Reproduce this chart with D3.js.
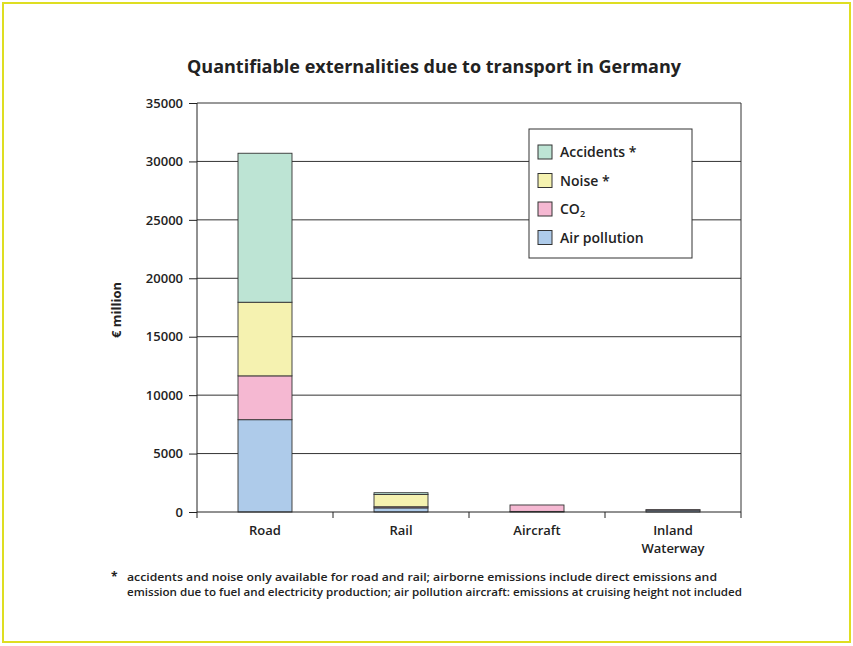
<!DOCTYPE html>
<html>
<head>
<meta charset="utf-8">
<script src="https://cdn.jsdelivr.net/npm/d3@7"></script>
<style>
  body { margin: 0; background: #fff; }
  text { font-family: "Open Sans", "DejaVu Sans", sans-serif; fill: #222; }
</style>
</head>
<body>
<svg id="chart" width="853" height="646"></svg>
<script>
const categories = ["Road", "Rail", "Aircraft", "Inland Waterway"];
const seriesNames = ["Air pollution", "CO₂", "Noise *", "Accidents *"];
const airPollution = [7900, 350, 50, 160];
const co2 = [3750, 100, 550, 40];
const noise = [6300, 1050, 0, 0];
const accidents = [12750, 150, 0, 0];
const yTicks = [0, 5000, 10000, 15000, 20000, 25000, 30000, 35000];
const colors = ["#aecbea", "#f5b8d2", "#f5f2b0", "#bde4d4"];

const svg = d3.select("#chart");
const plotL = 197, plotR = 741, plotT = 103, plotB = 512;

// outer yellow frame
svg.append("rect").attr("x", 3).attr("y", 3).attr("width", 847).attr("height", 639)
  .attr("fill", "none").attr("stroke", "#dede22").attr("stroke-width", 2);

svg.append("text").text("Quantifiable externalities due to transport in Germany")
  .attr("x", 434).attr("y", 73).attr("text-anchor", "middle")
  .attr("font-size", "18px").attr("font-weight", "bold");

const x = d3.scaleBand().domain(categories).range([plotL, plotR])
  .paddingInner(0.603).paddingOuter(0.3015);
const y = d3.scaleLinear().domain([0, 35000]).range([plotB, plotT]);

// gridlines
svg.append("g").selectAll("line").data(yTicks.slice(1)).enter().append("line")
  .attr("x1", plotL).attr("x2", plotR)
  .attr("y1", d => y(d)).attr("y2", d => y(d))
  .attr("stroke", "#333").attr("stroke-width", 1);
svg.append("line").attr("x1", plotR).attr("x2", plotR).attr("y1", plotT).attr("y2", plotB)
  .attr("stroke", "#333");

// stacked bars
const rows = categories.map((c, i) => ({
  cat: c, "Air pollution": airPollution[i], "CO₂": co2[i], "Noise *": noise[i], "Accidents *": accidents[i]
}));
const stack = d3.stack().keys(seriesNames)(rows);
svg.append("g").selectAll("g").data(stack).enter().append("g")
  .attr("fill", (d, i) => colors[i])
  .selectAll("rect").data(d => d.filter(p => p[1] > p[0])).enter().append("rect")
  .attr("x", d => x(d.data.cat))
  .attr("width", x.bandwidth())
  .attr("y", d => y(d[1]))
  .attr("height", d => y(d[0]) - y(d[1]))
  .attr("stroke", "#333").attr("stroke-width", 0.9);

// y axis
const yAxis = svg.append("g").attr("transform", `translate(${plotL},0)`)
  .call(d3.axisLeft(y).tickValues(yTicks).tickSize(8).tickPadding(6).tickFormat(d3.format("d")));
yAxis.selectAll("text").attr("font-size", "13px").attr("font-weight", 600)
  .style("font-family", '"Open Sans", sans-serif').attr("fill", "#222");
yAxis.selectAll("line, path").attr("stroke", "#222");
yAxis.select(".domain").attr("d", `M0,${plotT}V${plotB}`);

// x axis
const bx = d3.scaleLinear().domain([0, 4]).range([plotL, plotR]);
svg.append("line").attr("x1", plotL).attr("x2", plotR).attr("y1", plotB).attr("y2", plotB)
  .attr("stroke", "#222");
svg.append("g").selectAll("line").data(d3.range(5)).enter().append("line")
  .attr("x1", d => bx(d)).attr("x2", d => bx(d)).attr("y1", plotB).attr("y2", plotB + 6)
  .attr("stroke", "#222");
const xl = svg.append("g").selectAll("text").data(categories).enter().append("text")
  .attr("x", d => x(d) + x.bandwidth() / 2).attr("y", 535)
  .attr("text-anchor", "middle").attr("font-size", "13px").attr("font-weight", 600);
xl.each(function(d) {
  const words = d === "Inland Waterway" ? ["Inland", "Waterway"] : [d];
  words.forEach((w, i) => d3.select(this).append("tspan")
    .attr("x", x(d) + x.bandwidth() / 2).attr("dy", i ? 18 : 0).text(w));
});

svg.append("text").text("€ million")
  .attr("transform", "translate(121,310) rotate(-90)").attr("text-anchor", "middle")
  .attr("font-size", "13px").attr("font-weight", "bold");

// legend
const lg = svg.append("g").attr("transform", "translate(529,129)");
lg.append("rect").attr("width", 163).attr("height", 129).attr("fill", "#fff").attr("stroke", "#333");
const legendOrder = [3, 2, 1, 0];
legendOrder.forEach((si, i) => {
  const row = lg.append("g").attr("transform", `translate(9,${16 + i * 28.5})`);
  row.append("rect").attr("width", 14).attr("height", 14).attr("fill", colors[si]).attr("stroke", "#333");
  const t = row.append("text").attr("x", 22).attr("y", 12).attr("font-size", "14px").attr("font-weight", 600);
  if (si === 1) {
    t.append("tspan").text("CO");
    t.append("tspan").text("2").attr("font-size", "9px").attr("dy", 3);
  } else {
    t.text(seriesNames[si]);
  }
});

// footnote
const fn = svg.append("g").attr("font-size", "11.3px").attr("font-weight", 600);
fn.append("text").text("*").attr("x", 111).attr("y", 581).attr("font-size", "12px").attr("font-weight", 700);
fn.append("text").text("accidents and noise only available for road and rail; airborne emissions include direct emissions and")
  .attr("x", 127).attr("y", 581).attr("textLength", 590).attr("lengthAdjust", "spacingAndGlyphs");
fn.append("text").text("emission due to fuel and electricity production; air pollution aircraft: emissions at cruising height not included")
  .attr("x", 127).attr("y", 596).attr("textLength", 615).attr("lengthAdjust", "spacingAndGlyphs");
</script>
</body>
</html>
